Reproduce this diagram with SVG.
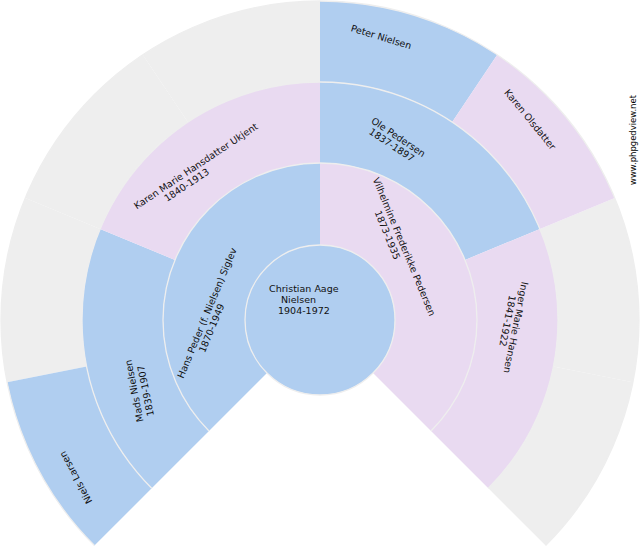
<svg xmlns="http://www.w3.org/2000/svg" width="640" height="550" viewBox="0 0 640 550">
<style>
.m{fill:#b0cef0}
.f{fill:#e9daf1}
.e{fill:#eeeeee}
.ring{fill:none;stroke:#eeeeee;stroke-width:1.3}
text{font-family:"DejaVu Sans","Liberation Sans",sans-serif;font-size:9.5px;fill:#111}
.c{text-anchor:middle}
.wm{font-size:8px;fill:#000}
</style>
<rect width="640" height="550" fill="#ffffff"/>
<g id="empty-slots">
<path class="e" d="M7.13,382.23 A319,319 0 0 1 25.28,197.92 L100.12,228.92 A238,238 0 0 0 86.57,366.43 Z"/>
<path class="e" d="M25.28,197.92 A319,319 0 0 1 142.77,54.76 L187.77,122.11 A238,238 0 0 0 100.12,228.92 Z"/>
<path class="e" d="M142.77,54.76 A319,319 0 0 1 320,1 L320,82 A238,238 0 0 0 187.77,122.11 Z"/>
<path class="e" d="M614.72,197.92 A319,319 0 0 1 632.87,382.23 L553.43,366.43 A238,238 0 0 0 539.88,228.92 Z"/>
<path class="e" d="M632.87,382.23 A319,319 0 0 1 545.57,545.57 L488.29,488.29 A238,238 0 0 0 553.43,366.43 Z"/>
</g>
<g id="niels-larsen">
<path class="m" d="M94.43,545.57 A319,319 0 0 1 7.13,382.23 L86.57,366.43 A238,238 0 0 0 151.71,488.29 Z"/>
<text class="c" x="78.7" y="476" transform="rotate(-118.125 78.7 476)">Niels Larsen</text>
</g>
<g id="peter-nielsen">
<path class="m" d="M320,1 A319,319 0 0 1 497.23,54.76 L452.23,122.11 A238,238 0 0 0 320,82 Z"/>
<text class="c" x="380.2" y="40.2" transform="rotate(16.875 380.2 40.2)">Peter Nielsen</text>
</g>
<g id="karen-olsdatter">
<path class="f" d="M497.23,54.76 A319,319 0 0 1 614.72,197.92 L539.88,228.92 A238,238 0 0 0 452.23,122.11 Z"/>
<text class="c" x="527.5" y="121.6" transform="rotate(50.625 527.5 121.6)">Karen Olsdatter</text>
</g>
<g id="mads-nielsen">
<path class="m" d="M151.71,488.29 A238,238 0 0 1 100.12,228.92 L174.95,259.92 A157,157 0 0 0 208.98,431.02 Z"/>
<text class="c" x="137.4" y="390.2" transform="rotate(-101.25 137.4 390.2)">Mads Nielsen</text>
<text class="c" x="149" y="390.2" transform="rotate(-101.25 149 390.2)">1839-1907</text>
</g>
<g id="karen-marie-hansdatter-ukjent">
<path class="f" d="M100.12,228.92 A238,238 0 0 1 320,82 L320,163 A157,157 0 0 0 174.95,259.92 Z"/>
<text class="c" x="197.6" y="168.9" transform="rotate(-33.75 197.6 168.9)">Karen Marie Hansdatter Ukjent</text>
<text class="c" x="188.5" y="187.7" transform="rotate(-33.75 188.5 187.7)">1840-1913</text>
</g>
<g id="ole-pedersen">
<path class="m" d="M320,82 A238,238 0 0 1 539.88,228.92 L465.05,259.92 A157,157 0 0 0 320,163 Z"/>
<text class="c" x="396.5" y="139.9" transform="rotate(33.75 396.5 139.9)">Ole Pedersen</text>
<text class="c" x="389.9" y="147.7" transform="rotate(33.75 389.9 147.7)">1837-1897</text>
</g>
<g id="inger-marie-hansen">
<path class="f" d="M539.88,228.92 A238,238 0 0 1 488.29,488.29 L431.02,431.02 A157,157 0 0 0 465.05,259.92 Z"/>
<text class="c" x="512.6" y="326.9" transform="rotate(101.25 512.6 326.9)">Inger Marie Hansen</text>
<text class="c" x="504.3" y="320.2" transform="rotate(101.25 504.3 320.2)">1841-1922</text>
</g>
<g id="hans-peder-siglev">
<path class="m" d="M208.98,431.02 A157,157 0 0 1 320,163 L320,245 A75,75 0 0 0 266.97,373.03 Z"/>
<text class="c" x="210" y="314.3" transform="rotate(-67.5 210 314.3)">Hans Peder (f. Nielsen) Siglev</text>
<text class="c" x="214.7" y="329.3" transform="rotate(-67.5 214.7 329.3)">1870-1949</text>
</g>
<g id="vilhelmine-frederikke-pedersen">
<path class="f" d="M320,163 A157,157 0 0 1 431.02,431.02 L373.03,373.03 A75,75 0 0 0 320,245 Z"/>
<text class="c" x="401.1" y="248" transform="rotate(67.5 401.1 248)">Vilhelmine Frederikke Pedersen</text>
<text class="c" x="384.4" y="236.3" transform="rotate(67.5 384.4 236.3)">1873-1935</text>
</g>
<g id="connectors">
<path class="ring" d="M94.43,545.57 A319,319 0 1 1 545.57,545.57"/>
<path class="ring" d="M151.71,488.29 A238,238 0 1 1 488.29,488.29"/>
<path class="ring" d="M208.98,431.02 A157,157 0 1 1 431.02,431.02"/>
</g>
<g id="christian-aage-nielsen">
<circle class="m" cx="320" cy="320" r="75" stroke="#eeeeee" stroke-width="1.3"/>
<text x="269" y="292.3">Christian Aage</text>
<text x="281" y="303.3">Nielsen</text>
<text x="278" y="314">1904-1972</text>
</g>
<text class="wm" x="636" y="185" transform="rotate(-90 636 185)" textLength="90" lengthAdjust="spacingAndGlyphs">www.phpgedview.net</text>
</svg>
